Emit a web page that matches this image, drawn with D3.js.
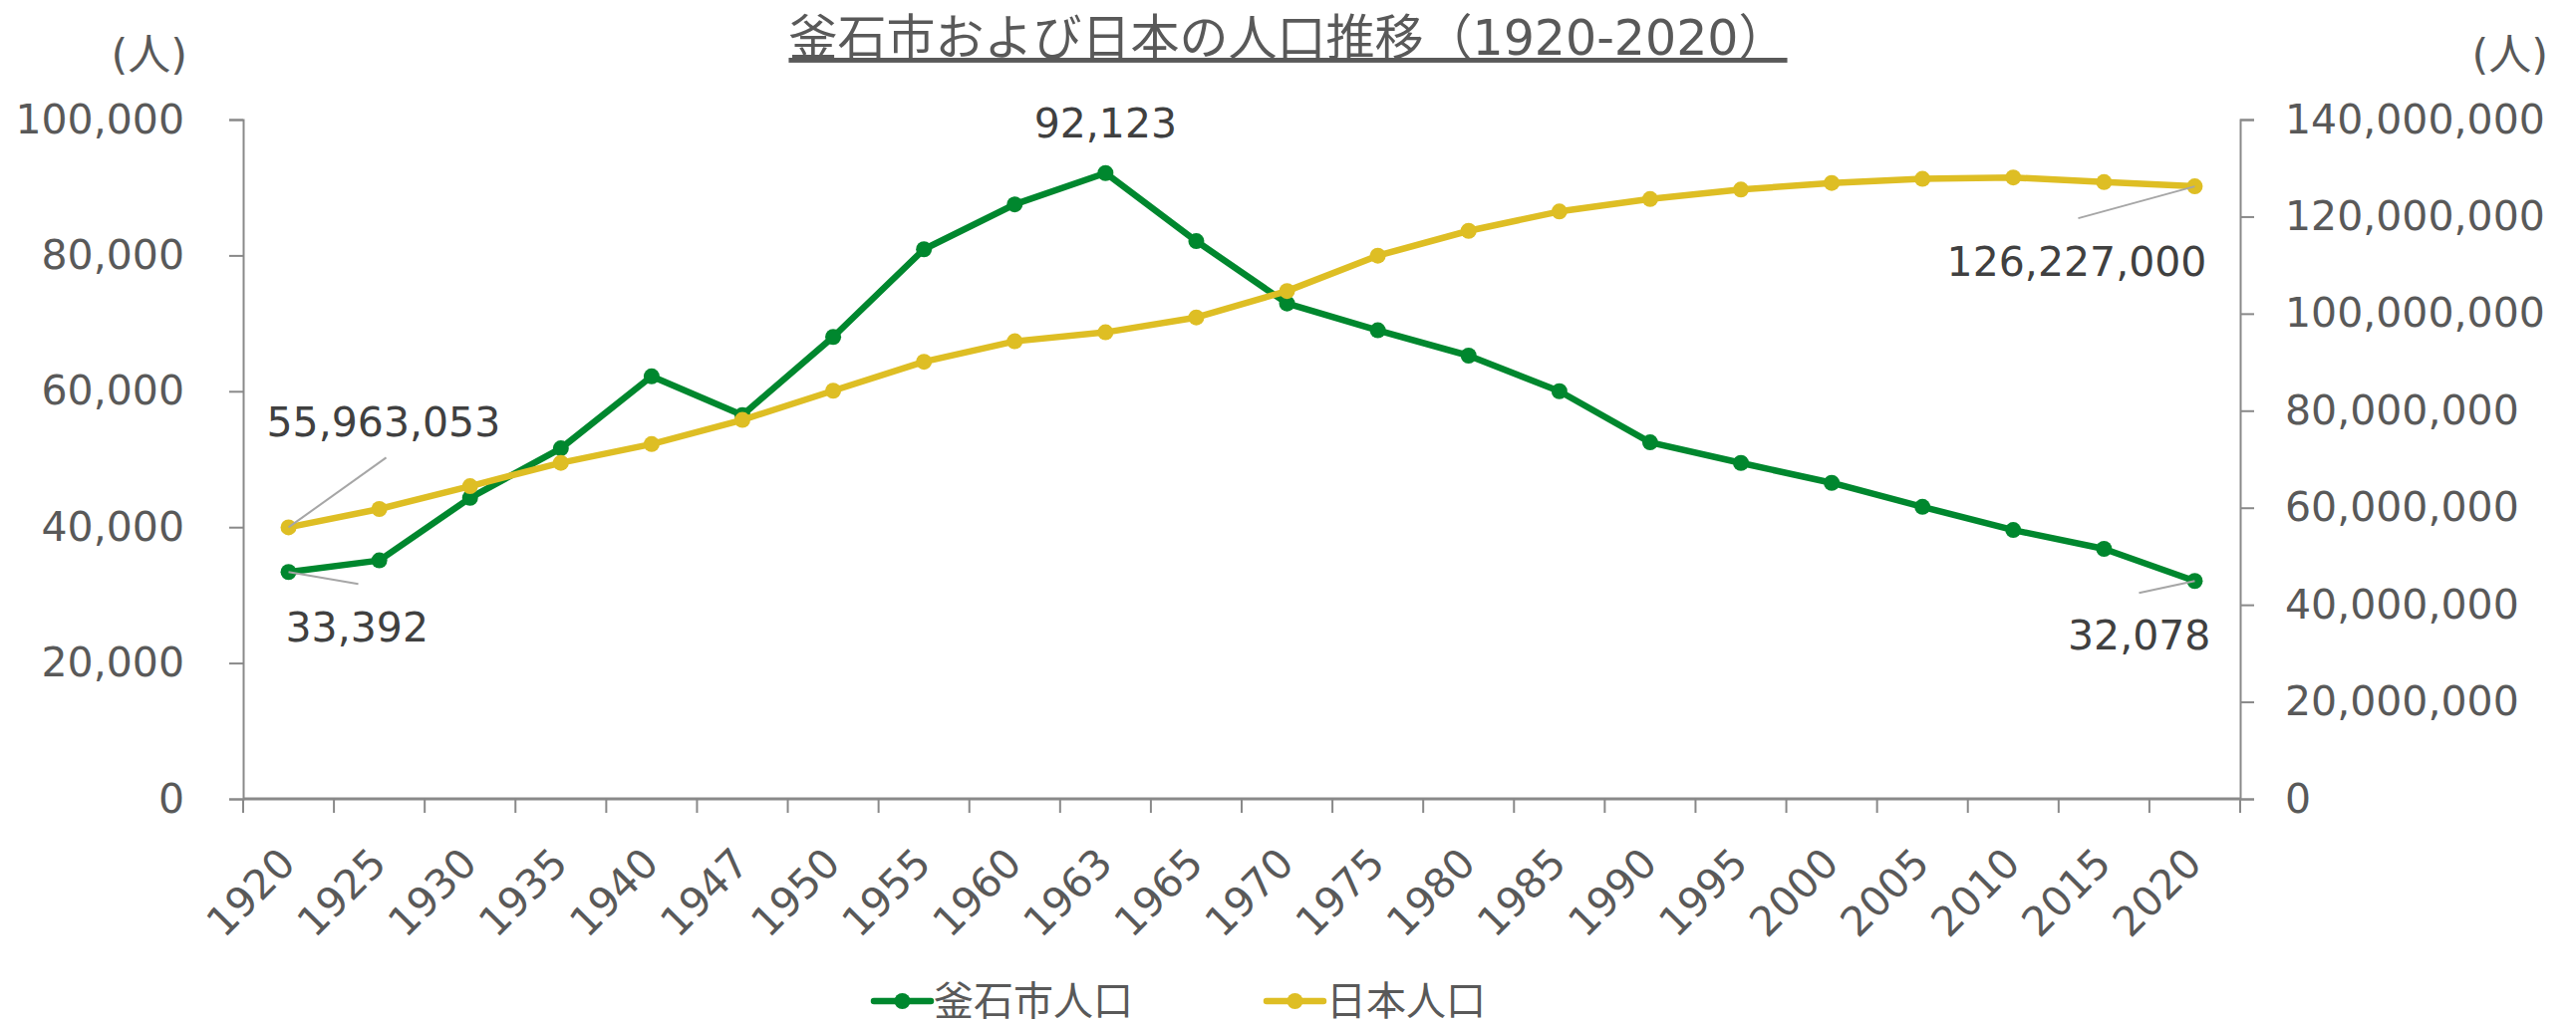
<!DOCTYPE html>
<html>
<head>
<meta charset="utf-8">
<script src="https://cdn.jsdelivr.net/npm/d3@7/dist/d3.min.js"></script>
<style>
  body { margin: 0; background: #fff; }
  svg { display: block; font-family: "DejaVu Sans", "Noto Sans CJK JP", sans-serif; }
</style>
</head>
<body>
<div id="chart"></div>
<script>
// data
const years = ["1920","1925","1930","1935","1940","1947","1950","1955","1960","1963","1965",
  "1970","1975","1980","1985","1990","1995","2000","2005","2010","2015","2020"];
const kamaishi = [33392, 35100, 44300, 51600, 62200, 56500, 68000, 80900, 87511, 92123, 82104,
  72923, 68981, 65250, 60007, 52484, 49447, 46521, 42987, 39574, 36802, 32078];
const japan = [55963053, 59736822, 64450005, 69254148, 73114308, 78101473, 84114574, 90076594,
  94301623, 96156000, 99209137, 104665171, 111939643, 117060396, 121048923, 123611167,
  125570246, 126925843, 127767994, 128057352, 127094745, 126227000];
const leftTicks = [0, 20000, 40000, 60000, 80000, 100000];
const rightTicks = [0, 20000000, 40000000, 60000000, 80000000, 100000000, 120000000, 140000000];
const seriesNames = ["釜石市人口", "日本人口"];
const title = "釜石市および日本の人口推移（1920-2020）";

const W = 2585, H = 1027;
const margin = { top: 120, right: 337, bottom: 225, left: 244 };
const green = "#00872E", yellow = "#DEBE24";
const axisColor = "#898989", textColor = "#595959", labelColor = "#404040";
const fmt = d3.format(",");

const svg = d3.select("#chart").append("svg")
  .attr("width", W)
  .attr("height", H);

const x = d3.scaleBand()
  .domain(years)
  .range([margin.left, W - margin.right])
  .padding(0);
const cx = d => x(d) + x.bandwidth() / 2;

const yL = d3.scaleLinear().domain([0, 100000]).range([H - margin.bottom, margin.top]);
const yR = d3.scaleLinear().domain([0, 140000000]).range([H - margin.bottom, margin.top]);

// title
svg.append("text")
  .attr("x", W / 2)
  .attr("y", 55)
  .attr("text-anchor", "middle")
  .attr("font-size", 49)
  .attr("fill", textColor)
  .style("text-decoration", "underline")
  .text(title);

// unit labels
svg.append("text").attr("x", 188).attr("y", 70).attr("text-anchor", "end")
  .attr("font-size", 43).attr("fill", textColor).text("(人)");
svg.append("text").attr("x", 2557).attr("y", 70).attr("text-anchor", "end")
  .attr("font-size", 43).attr("fill", textColor).text("(人)");

// left axis
const gL = svg.append("g")
  .attr("transform", `translate(${margin.left},0)`)
  .call(d3.axisLeft(yL).tickValues(leftTicks).tickFormat(fmt).tickSize(14).tickPadding(45));
// right axis
const gR = svg.append("g")
  .attr("transform", `translate(${W - margin.right},0)`)
  .call(d3.axisRight(yR).tickValues(rightTicks).tickFormat(fmt).tickSize(14).tickPadding(31));

[gL, gR].forEach(g => {
  g.selectAll("path, line").attr("stroke", axisColor).attr("stroke-width", 2);
  g.selectAll("text").attr("font-size", 41).attr("fill", textColor)
    .attr("font-family", "DejaVu Sans, Noto Sans CJK JP, sans-serif");
});

// x axis
const y0 = H - margin.bottom;
const gx = svg.append("g");
gx.append("line")
  .attr("x1", margin.left).attr("x2", W - margin.right)
  .attr("y1", y0).attr("y2", y0)
  .attr("stroke", axisColor).attr("stroke-width", 3);
const bounds = years.map(d => x(d)).concat([x(years[years.length - 1]) + x.bandwidth()]);
gx.selectAll("line.tick")
  .data(bounds)
  .enter().append("line")
  .attr("class", "tick")
  .attr("x1", d => d).attr("x2", d => d)
  .attr("y1", y0).attr("y2", y0 + 14)
  .attr("stroke", axisColor).attr("stroke-width", 2);
gx.selectAll("text")
  .data(years)
  .enter().append("text")
  .attr("transform", d => `translate(${cx(d) + 9},${y0 + 67}) rotate(-45)`)
  .attr("text-anchor", "end")
  .attr("font-size", 41)
  .attr("fill", textColor)
  .text(d => d);

// lines
const series = [
  { name: seriesNames[0], values: kamaishi, y: yL, color: green },
  { name: seriesNames[1], values: japan, y: yR, color: yellow }
];
series.forEach(s => {
  const line = d3.line().x((d, i) => cx(years[i])).y(d => s.y(d));
  svg.append("path")
    .datum(s.values)
    .attr("fill", "none")
    .attr("stroke", s.color)
    .attr("stroke-width", 6.5)
    .attr("stroke-linejoin", "round")
    .attr("d", line);
  svg.append("g").selectAll("circle")
    .data(s.values)
    .enter().append("circle")
    .attr("cx", (d, i) => cx(years[i]))
    .attr("cy", d => s.y(d))
    .attr("r", 8)
    .attr("fill", s.color);
});

// data labels with leader lines
const last = years.length - 1;
const peak = kamaishi.indexOf(d3.max(kamaishi));
const labels = [
  { i: 0, v: japan[0], y: yR, dx: -22, dy: -91, anchor: "start", lx: 98, ly: -70 },
  { i: 0, v: kamaishi[0], y: yL, dx: -3, dy: 70, anchor: "start", lx: 70, ly: 12 },
  { i: peak, v: kamaishi[peak], y: yL, dx: 0, dy: -36, anchor: "middle" },
  { i: last, v: japan[last], y: yR, dx: 12, dy: 90, anchor: "end", lx: -117, ly: 32 },
  { i: last, v: kamaishi[last], y: yL, dx: 16, dy: 69, anchor: "end", lx: -56, ly: 12 }
];
labels.forEach(l => {
  const px = cx(years[l.i]), py = l.y(l.v);
  if (l.lx !== undefined) {
    svg.append("line")
      .attr("x1", px).attr("y1", py)
      .attr("x2", px + l.lx).attr("y2", py + l.ly)
      .attr("stroke", "#A6A6A6").attr("stroke-width", 2);
  }
  svg.append("text")
    .attr("x", px + l.dx)
    .attr("y", py + l.dy)
    .attr("text-anchor", l.anchor)
    .attr("font-size", 41)
    .attr("fill", labelColor)
    .text(fmt(l.v));
});

// legend
const legendX = [877, 1271];
series.forEach((s, k) => {
  const g = svg.append("g").attr("transform", `translate(${legendX[k]},1005)`);
  g.append("line").attr("x1", 0).attr("x2", 57).attr("y1", 0).attr("y2", 0)
    .attr("stroke", s.color).attr("stroke-width", 6.5).attr("stroke-linecap", "round");
  g.append("circle").attr("cx", 28.5).attr("cy", 0).attr("r", 8).attr("fill", s.color);
  g.append("text").attr("x", 60).attr("y", 14)
    .attr("font-size", 40).attr("fill", textColor)
    .text(s.name);
});
</script>
</body>
</html>
